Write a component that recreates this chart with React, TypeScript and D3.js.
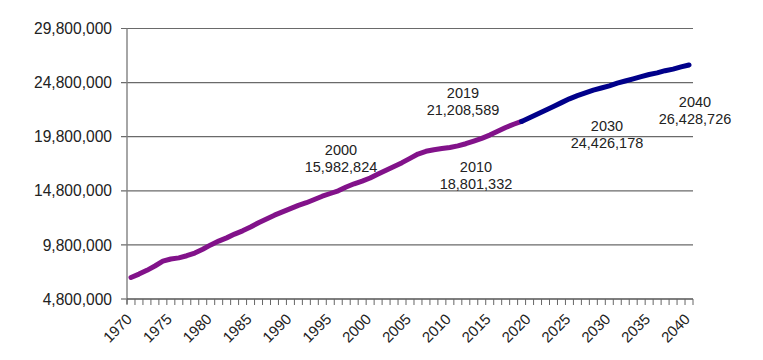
import React from "react";
import * as d3 from "d3";

const years: number[] = d3.range(1970, 2041);
const historical: number[] = [
  6.79, 7.1, 7.45, 7.85, 8.3, 8.5, 8.6, 8.8, 9.05, 9.4,
  9.8, 10.15, 10.45, 10.8, 11.1, 11.45, 11.85, 12.2, 12.55, 12.85,
  13.15, 13.45, 13.7, 14.0, 14.3, 14.55, 14.8, 15.15, 15.45, 15.7,
  15.98, 16.35, 16.7, 17.05, 17.4, 17.8, 18.2, 18.45, 18.6, 18.7,
  18.8, 18.95, 19.15, 19.4, 19.65, 19.95, 20.3, 20.65, 20.95, 21.21,
].map((v) => v * 1e6);
const projected: number[] = [
  21.21, 21.55, 21.9, 22.25, 22.6, 22.95, 23.3, 23.6, 23.85, 24.1, 24.3,
  24.5, 24.75, 24.95, 25.15, 25.35, 25.55, 25.7, 25.9, 26.05, 26.25, 26.43,
].map((v) => v * 1e6);
const yTicks: number[] = [4800000, 9800000, 14800000, 19800000, 24800000, 29800000];
const xLabelYears: number[] = [1970, 1975, 1980, 1985, 1990, 1995, 2000, 2005, 2010, 2015, 2020, 2025, 2030, 2035, 2040];
const annotationYears: string[] = ["2000", "2010", "2019", "2030", "2040"];
const annotationValues: string[] = ["15,982,824", "18,801,332", "21,208,589", "24,426,178", "26,428,726"];

// layout of annotation labels (centre x, first baseline y)
const annotationLayout = [
  { x: 341, y: 155 },
  { x: 476, y: 172 },
  { x: 463, y: 98 },
  { x: 607, y: 131 },
  { x: 695, y: 107 },
];

const W = 763;
const H = 360;
const left = 127;
const right = 693;
const top = 28.5;
const bottom = 299;
const font = "'Liberation Sans', Arial, sans-serif";

export default function App() {
  const x = d3.scaleBand<number>().domain(years).range([left, right]).paddingInner(0).paddingOuter(0);
  const bw = x.bandwidth();
  const cx = (yr: number) => (x(yr) as number) + bw / 2;
  const y = d3.scaleLinear().domain([4800000, 29800000]).range([bottom, top]);
  const fmt = d3.format(",");

  const histPts: [number, number][] = historical.map((v, i) => [cx(years[i]), y(v)]);
  const projStart = years.indexOf(2019);
  const projPts: [number, number][] = projected.map((v, i) => [cx(years[projStart + i]), y(v)]);
  const line = d3.line<[number, number]>().x((d) => d[0]).y((d) => d[1]);

  const boundaries = d3.range(0, years.length + 1).map((i) => left + i * bw);

  return (
    <svg width={W} height={H} style={{ position: "absolute", left: 0, top: 0, background: "#fff" }}>
      <rect width={W} height={H} fill="#fff" />
      {yTicks.map((t) => (
        <g key={t}>
          <line x1={left - 6} x2={t === yTicks[0] ? left : right} y1={y(t)} y2={y(t)} stroke="#6a6a6a" strokeWidth={1.2} />
          <text x={112} y={y(t)} dy="0.36em" textAnchor="end" fontFamily={font} fontSize={15.6} fill="#222">
            {fmt(t)}
          </text>
        </g>
      ))}
      <line x1={left} x2={left} y1={top} y2={bottom + 5} stroke="#808080" strokeWidth={1.4} />
      <line x1={left} x2={right} y1={bottom} y2={bottom} stroke="#555" strokeWidth={1.4} />
      {boundaries.map((bx, i) => (
        <line key={i} x1={bx} x2={bx} y1={bottom} y2={bottom + 6} stroke="#666" strokeWidth={1} />
      ))}
      {xLabelYears.map((yr) => (
        <text
          key={yr}
          transform={`translate(${cx(yr) + 2},320) rotate(-45)`}
          textAnchor="end"
          fontFamily={font}
          fontSize={15}
          fill="#222"
        >
          {yr}
        </text>
      ))}
      <path d={line(histPts) || ""} fill="none" stroke="#82128a" strokeWidth={5} strokeLinejoin="round" strokeLinecap="round" />
      <path d={line(projPts) || ""} fill="none" stroke="#00008a" strokeWidth={5} strokeLinejoin="round" strokeLinecap="round" />
      {annotationYears.map((a, i) => (
        <text key={a} textAnchor="middle" fontFamily={font} fontSize={14.5} fill="#222">
          <tspan x={annotationLayout[i].x} y={annotationLayout[i].y}>{a}</tspan>
          <tspan x={annotationLayout[i].x} y={annotationLayout[i].y + 16.7}>{annotationValues[i]}</tspan>
        </text>
      ))}
    </svg>
  );
}
